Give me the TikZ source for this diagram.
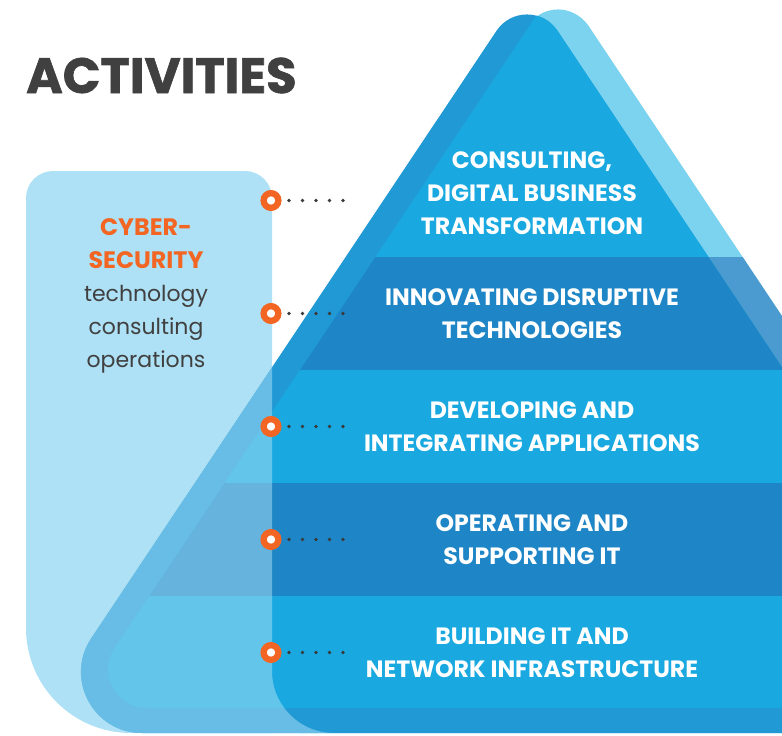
\documentclass[tikz,border=0pt]{standalone}
\usepackage{fontspec}
\setmainfont{Poppins}
\newfontfamily\heavyfont{Poppins}[FakeBold=1.3]
\definecolor{panelc}{HTML}{AEE1F5}
\definecolor{bluec}{HTML}{2199D5}
\definecolor{bandl}{HTML}{19A9E0}
\definecolor{bandd}{HTML}{1E86C6}
\definecolor{cyanc}{HTML}{7BD3F0}
\definecolor{stripc}{HTML}{4B9AD0}
\definecolor{orangec}{HTML}{F26522}
\definecolor{greyc}{HTML}{404040}
\definecolor{dotc}{HTML}{3A3A3A}
\def\pyrA{(277.9,400) -- (527.5,25.8) .. controls (543,4) and (573,4) .. (588.5,25.8) -- (1060,733) -- (300,733) -- cycle}
\def\pyrB{(91.3,638.2) -- (496.5,30.8) .. controls (511,9) and (543,9) .. (557.5,30.8) -- (1026,733) -- (142,733) .. controls (93.3,733) and (64.3,678.7) .. (91.3,638.2) -- cycle}
\def\pyrC{(114.5,648.1) -- (586.8,-60) -- (1200,-60) -- (1200,708) -- (146.5,708) .. controls (115.8,708) and (97.4,673.7) .. (114.5,648.1) -- cycle}
\def\ovlR{(-10,-10) -- (272,-10) -- (272,671) .. controls (272,705.2) and (299.8,733) .. (334,733) -- (334,760) -- (-10,760) -- cycle}
\begin{document}
\begin{tikzpicture}[x=1pt,y=-1pt,
  bandtext/.style={text=white, font=\fontsize{23.6}{23.6}\selectfont\bfseries, anchor=base, inner sep=0pt},
  paneltitle/.style={text=orangec, font=\fontsize{23.8}{23.8}\selectfont\bfseries, anchor=base, inner sep=0pt},
  panelbody/.style={text=greyc, font=\fontsize{22}{22}\selectfont, anchor=base, inner sep=0pt},
  titletext/.style={text=greyc, font=\fontsize{49.6}{49.6}\selectfont\heavyfont\bfseries, anchor=base west, inner sep=0pt},
  ring/.style={circle, draw=orangec, fill=white, line width=6.3pt, minimum size=14.7pt, inner sep=0pt},
  leader/.style={draw=dotc, line width=3.9pt, line cap=round, dash pattern=on 0pt off 13.5pt}]
\useasboundingbox (0,0) rectangle (782,736);
\clip (0,0) rectangle (782,736);
% left panel
\fill[panelc] (26,198) .. controls (26,183.1) and (38.1,171) .. (53,171) -- (245,171) .. controls (259.9,171) and (272,183.1) .. (272,198) -- (272,733) -- (131,733) .. controls (73,733) and (26,686) .. (26,628) -- cycle;
% back light pyramid
\fill[cyanc] \pyrA;
\begin{scope}
  \clip \pyrA;
  \fill[stripc] (0,257) rectangle (800,370);
\end{scope}
% main pyramid
\fill[bluec] \pyrB;
\begin{scope}
  \clip \pyrB;
  \clip \pyrC;
  \fill[bandl] (0,-100) rectangle (800,800);
  \fill[bandd] (0,257) rectangle (800,370);
  \fill[bandd] (0,483) rectangle (800,596);
\end{scope}
% light overlay over the left part
\begin{scope}
  \clip \pyrB;
  \fill[panelc, opacity=0.5] \ovlR;
\end{scope}
% title
\node[titletext] (title) at (26,93) {ACTIVITIES};
% panel text
\node[paneltitle] (c1) at (146,235) {CYBER-};
\node[paneltitle] (c2) at (146,268) {SECURITY};
\node[panelbody] (c3) at (146,301) {technology};
\node[panelbody] (c4) at (146,334) {consulting};
\node[panelbody] (c5) at (146,367) {operations};
% pyramid text
\node[bandtext] (t1a) at (532,168.5) {CONSULTING,};
\node[bandtext] (t1b) at (532,201.5) {DIGITAL BUSINESS};
\node[bandtext] (t1c) at (532,234) {TRANSFORMATION};
\node[bandtext] (t2a) at (532,305.3) {INNOVATING DISRUPTIVE};
\node[bandtext] (t2b) at (532,338.3) {TECHNOLOGIES};
\node[bandtext] (t3a) at (532,418.3) {DEVELOPING AND};
\node[bandtext] (t3b) at (532,451.3) {INTEGRATING APPLICATIONS};
\node[bandtext] (t4a) at (532,531.3) {OPERATING AND};
\node[bandtext] (t4b) at (532,564.3) {SUPPORTING IT};
\node[bandtext] (t5a) at (532,644.3) {BUILDING IT AND};
\node[bandtext] (t5b) at (532,677.3) {NETWORK INFRASTRUCTURE};
% rings and dotted leaders
\foreach \i/\yy in {1/200.5,2/313.5,3/426.5,4/539.5,5/652.5}{
  \node[ring] (r\i) at (271,\yy) {};
  \coordinate (ls\i) at (289,\yy);
  \coordinate (le\i) at (343.5,\yy);
  \draw[leader] (ls\i) -- (le\i);
}
\end{tikzpicture}
\end{document}
